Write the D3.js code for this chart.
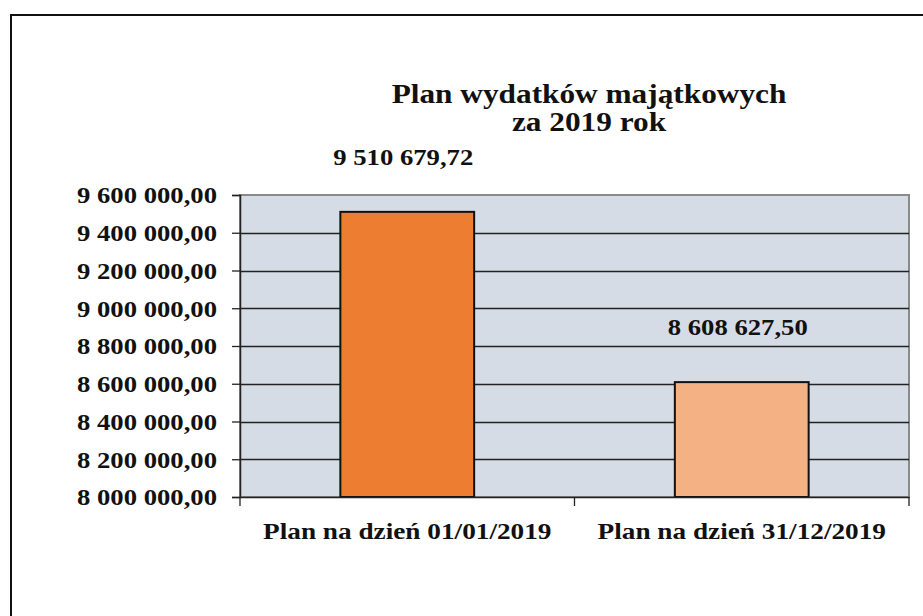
<!DOCTYPE html>
<html><head><meta charset="utf-8">
<script src="https://cdn.jsdelivr.net/npm/d3@7"></script>
<style>
html,body{margin:0;padding:0;background:#fff;}
svg{display:block;}
text{font-family:"Liberation Serif","Times New Roman",serif;font-weight:bold;fill:#111;}
</style></head>
<body>
<svg id="chart" width="923" height="616"></svg>
<script>
const categories = ["Plan na dzień 01/01/2019", "Plan na dzień 31/12/2019"];
const values = [9510679.72, 8608627.50];
const colors = ["#ED7D31", "#F4B183"];
const yTicks = [8000000, 8200000, 8400000, 8600000, 8800000, 9000000, 9200000, 9400000, 9600000];
const titleLines = ["Plan wydatków majątkowych", "za 2019 rok"];

const locale = d3.formatLocale({decimal: ",", thousands: " ", grouping: [3], currency: ["", " zł"]});
const fmt = locale.format(",.2f");
const SX = 1.16; // horizontal stretch of the lettering

const svg = d3.select("#chart");
const plot = {left: 240, top: 195, right: 909, bottom: 497};

function stretch(sel, cx, cy) {
  sel.attr("x", 0).attr("y", 0)
     .attr("transform", (d, i) => {
       const X = typeof cx === "function" ? cx(d, i) : cx;
       const Y = typeof cy === "function" ? cy(d, i) : cy;
       return `translate(${X},${Y}) scale(${SX},1)`;
     });
}

// outer border (extends beyond the visible frame)
svg.append("rect").attr("x", 11).attr("y", 15).attr("width", 1000).attr("height", 800)
  .attr("fill", "#fff").attr("stroke", "#111").attr("stroke-width", 2);

const x = d3.scaleBand().domain(categories).range([plot.left, plot.right]).paddingInner(0.6).paddingOuter(0.3);
const xBand = d3.scaleBand().domain(categories).range([plot.left, plot.right]);
const y = d3.scaleLinear().domain([8000000, 9600000]).range([plot.bottom, plot.top]);

// plot background
svg.append("rect").attr("x", plot.left).attr("y", plot.top)
  .attr("width", plot.right - plot.left).attr("height", plot.bottom - plot.top)
  .attr("fill", "#D6DCE5").attr("stroke", "#8a8a8a").attr("stroke-width", 2);

// gridlines
svg.append("g").selectAll("line").data(yTicks.filter(t => t > 8000000 && t < 9600000)).join("line")
  .attr("x1", plot.left).attr("x2", plot.right)
  .attr("y1", d => Math.round(y(d)) + 0.5).attr("y2", d => Math.round(y(d)) + 0.5)
  .attr("stroke", "#222").attr("stroke-width", 1.3);

// bars
svg.append("g").selectAll("rect").data(values).join("rect")
  .attr("x", (d, i) => x(categories[i]))
  .attr("width", x.bandwidth())
  .attr("y", d => y(d))
  .attr("height", d => plot.bottom - y(d))
  .attr("fill", (d, i) => colors[i])
  .attr("stroke", "#111").attr("stroke-width", 2);

// y axis
const yAxis = svg.append("g").attr("transform", `translate(${plot.left},0)`)
  .call(d3.axisLeft(y).tickValues(yTicks).tickFormat(fmt).tickSize(8).tickPadding(14));
yAxis.select(".domain").attr("stroke", "#222").attr("stroke-width", 1.5);
yAxis.selectAll(".tick line").attr("stroke", "#222").attr("stroke-width", 1.3);
yAxis.selectAll(".tick text").attr("font-size", 23).attr("dy", "0.34em").call(stretch, -23, 0);

// x axis
const xAxis = svg.append("g").attr("transform", `translate(0,${plot.bottom})`)
  .call(d3.axisBottom(xBand).tickSize(0));
xAxis.select(".domain").attr("stroke", "#222").attr("stroke-width", 1.5);
xAxis.selectAll(".tick text").attr("font-size", 23.5).attr("dy", 0).call(stretch, 0, 42);
// category separator ticks
const sepX = [plot.left, plot.left + xBand.step(), plot.right];
svg.append("g").selectAll("line").data(sepX).join("line")
  .attr("x1", d => d).attr("x2", d => d).attr("y1", plot.bottom).attr("y2", plot.bottom + 9)
  .attr("stroke", "#222").attr("stroke-width", 1.3);

// data labels
svg.append("g").selectAll("text").data(values).join("text")
  .attr("text-anchor", "middle").attr("font-size", 23)
  .text(d => fmt(d))
  .call(stretch, (d, i) => x(categories[i]) + x.bandwidth() / 2 - 4, d => y(d) - 47);

// title
svg.append("g").selectAll("text").data(titleLines).join("text")
  .attr("text-anchor", "middle").attr("font-size", 27)
  .text(d => d)
  .call(stretch, 589, (d, i) => 103 + i * 28);
</script>
</body></html>
